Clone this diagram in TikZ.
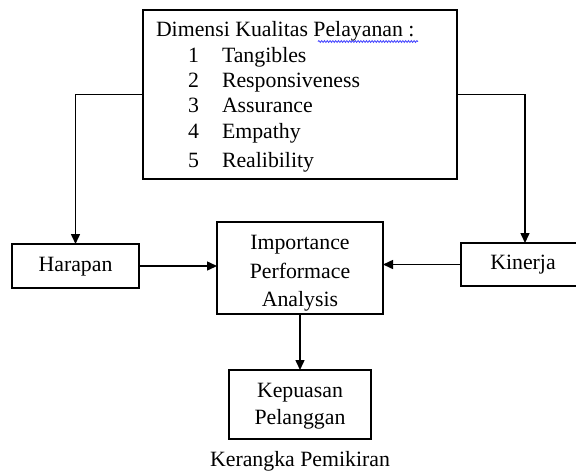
\documentclass[tikz,border=0pt]{standalone}
\usepackage{fontspec}
\setmainfont{Liberation Serif}
\usetikzlibrary{arrows.meta,decorations.pathmorphing}
\begin{document}
\begin{tikzpicture}[x=1pt,y=-1pt,
  box/.style={draw, line width=1.5pt, inner sep=0pt, outer sep=0pt},
  lbl/.style={inner sep=0pt, outer sep=0pt, font=\fontsize{21.8}{25}\selectfont},
  onebox/.style={box, font=\fontsize{21.8}{25}\selectfont, text height=15pt, text depth=5pt},
  conn/.style={line width=1.5pt},
  arr/.style={conn, -{Triangle[length=10pt,width=9pt]}}]
\useasboundingbox (0,0) rectangle (576,472);
\clip (0,0) rectangle (576,472);
% top box
\node[box, minimum width=314pt, minimum height=169pt] (dim) at (300,94.5) {};
\node[lbl, anchor=base west] (dimt) at (156,36) {Dimensi Kualitas Pelayanan :};
\node[lbl, anchor=base west] (n1) at (188,62) {1};
\node[lbl, anchor=base west] (t1) at (222,62) {Tangibles};
\node[lbl, anchor=base west] (n2) at (188,87) {2};
\node[lbl, anchor=base west] (t2) at (222,87) {Responsiveness};
\node[lbl, anchor=base west] (n3) at (188,112) {3};
\node[lbl, anchor=base west] (t3) at (222,112) {Assurance};
\node[lbl, anchor=base west] (n4) at (188,138) {4};
\node[lbl, anchor=base west] (t4) at (222,138) {Empathy};
\node[lbl, anchor=base west] (n5) at (188,167) {5};
\node[lbl, anchor=base west] (t5) at (222,167) {Realibility};
\coordinate (sqa) at (318,41.5);
\coordinate (sqb) at (418,41.5);
\draw[blue!75, line width=0.8pt, decorate, decoration={snake, amplitude=0.9pt, segment length=2.8pt}] (sqa) -- (sqb);
% side boxes
\node[onebox, minimum width=127pt, minimum height=44pt] (harapan) at (75.5,266) {Harapan};
\node[onebox, minimum width=124pt, minimum height=43pt] (kinerja) at (523,264.5) {Kinerja};
% IPA box
\node[box, minimum width=166pt, minimum height=92pt] (ipa) at (300,268) {};
\node[lbl, anchor=base] (ipa1) at (300,249) {Importance};
\node[lbl, anchor=base] (ipa2) at (300,278) {Performace};
\node[lbl, anchor=base] (ipa3) at (300,306) {Analysis};
% Kepuasan box
\node[box, minimum width=142pt, minimum height=69pt] (kep) at (300,404.5) {};
\node[lbl, anchor=base] (kep1) at (300,397) {Kepuasan};
\node[lbl, anchor=base] (kep2) at (300,424) {Pelanggan};
% caption
\node[lbl, anchor=base] (cap) at (300,466) {Kerangka Pemikiran};
% connectors
\draw[arr] (dim.west) -| (harapan.north);
\draw[arr] (dim.east) -| ([xshift=2pt]kinerja.north);
\draw[arr] (harapan.east) -- (harapan.east -| ipa.west);
\draw[arr] (kinerja.west) -- (kinerja.west -| ipa.east);
\draw[arr] (ipa.south) -- (kep.north);
\end{tikzpicture}
\end{document}
